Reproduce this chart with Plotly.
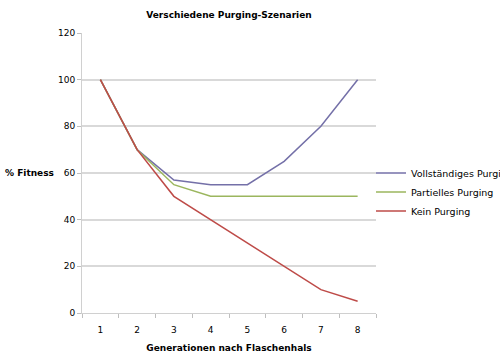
import plotly.graph_objects as go

generations = ["1", "2", "3", "4", "5", "6", "7", "8"]
vollstaendig = [100, 70, 57, 55, 55, 65, 80, 100]
partiell = [100, 70, 55, 50, 50, 50, 50, 50]
kein = [100, 70, 50, 40, 30, 20, 10, 5]
y_ticks = [0, 20, 40, 60, 80, 100, 120]

FONT = "DejaVu Sans"

fig = go.Figure()
fig.add_trace(go.Scatter(x=generations, y=vollstaendig, mode="lines",
                         name="Vollständiges Purging", line=dict(color="#7470A8", width=1.5)))
fig.add_trace(go.Scatter(x=generations, y=partiell, mode="lines",
                         name="Partielles Purging", line=dict(color="#9BB65E", width=1.5)))
fig.add_trace(go.Scatter(x=generations, y=kein, mode="lines",
                         name="Kein Purging", line=dict(color="#BE4B48", width=1.5)))

fig.update_layout(
    width=500, height=364, autosize=False,
    margin=dict(l=82, r=124, t=33, b=51, autoexpand=False),
    paper_bgcolor="white", plot_bgcolor="white",
    font=dict(family=FONT, size=9, color="black"),
    title=dict(text="<b>Verschiedene Purging-Szenarien</b>", x=229/500, xanchor="center",
               xref="container", yref="container",
               y=1 - 15/364, yanchor="middle", font=dict(family=FONT, size=9)),
    showlegend=True,
    legend=dict(xref="paper", yref="paper", x=(371 - 82) / 294, xanchor="left",
                y=(313 - 192) / 280, yanchor="middle",
                font=dict(family=FONT, size=9.5),
                itemwidth=30, tracegroupgap=0, bgcolor="rgba(0,0,0,0)"),
)
fig.update_xaxes(type="category", range=[-0.5, 7.5], tickson="boundaries", ticks="outside", ticklen=4,
                 tickcolor="#BFBFBF", showline=True, linecolor="#D0D0D0", linewidth=1,
                 showgrid=False, tickfont=dict(size=9), ticklabelstandoff=8,
                 title=dict(text="<b>Generationen nach Flaschenhals</b>", standoff=10,
                            font=dict(size=9)))
fig.update_yaxes(range=[0, 120], tickvals=y_ticks, ticks="outside", ticklen=4,
                 tickcolor="#BFBFBF", showline=True, linecolor="#D0D0D0", linewidth=1,
                 showgrid=True, gridcolor="#D9D9D9", gridwidth=1.5, zeroline=False,
                 tickfont=dict(size=9))
fig.add_annotation(text="<b>% Fitness</b>", xref="paper", yref="paper",
                   x=-0.09, y=0.5, xanchor="right", yanchor="middle", showarrow=False,
                   font=dict(family=FONT, size=9))

fig.write_html("out.html", post_script="document.body.style.margin='0';",
               config={"displayModeBar": False})
